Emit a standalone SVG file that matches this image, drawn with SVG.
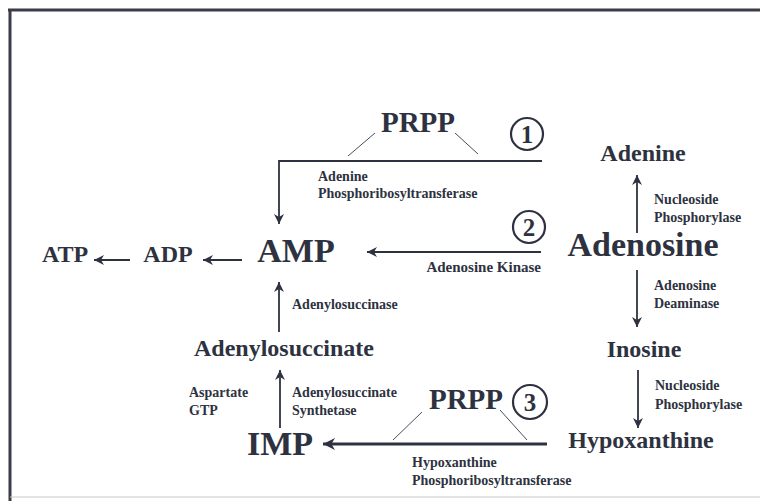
<svg xmlns="http://www.w3.org/2000/svg" width="760" height="501" viewBox="0 0 760 501">
<defs>
<marker id="ah" viewBox="0 0 10 10" refX="10" refY="5" markerWidth="10" markerHeight="10" markerUnits="userSpaceOnUse" orient="auto"><path d="M0,0 L10,5 L0,10 L3,5 z" fill="#2e3240"/></marker>
<marker id="ahb" viewBox="0 0 10 10" refX="10" refY="5" markerWidth="15" markerHeight="12" markerUnits="userSpaceOnUse" orient="auto"><path d="M0,0 L10,5 L0,10 L3,5 z" fill="#2e3240"/></marker>
</defs>
<style>
text{font-family:"Liberation Serif","Times New Roman",serif;font-weight:bold;fill:#2e3240}
.big{font-size:34px;text-anchor:middle}
.mid{font-size:24px;text-anchor:middle}
.prpp{font-size:29px;text-anchor:middle}
.lab{font-size:14px}
.ln{stroke:#2e3240;stroke-width:1.8;fill:none}
.thin{stroke:#4a4e5a;stroke-width:1;fill:none}
.circ{fill:none;stroke:#2e3240;stroke-width:2.2}
.num{font-size:25px;text-anchor:middle}
</style>
<rect width="760" height="501" fill="#fff"/>
<g id="frame">
<path d="M8,10 H760 M10,10 V501" stroke="#3a3d48" stroke-width="3" fill="none"/>
<path d="M10,497 H760" stroke="#c8c8cc" stroke-width="1" fill="none"/>
</g>
<g id="connectors">
<path class="ln" d="M542,161 H279 V224" marker-end="url(#ah)"/>
<path class="thin" d="M375,133 L348,156 M455,133 L478,154"/>
<path class="ln" d="M541,252 H367" marker-end="url(#ah)"/>
<path class="ln" d="M242,260 H203" marker-end="url(#ah)"/>
<path class="ln" d="M130,260 H94" marker-end="url(#ah)"/>
<path class="ln" d="M637,233 V175" marker-end="url(#ah)"/>
<path class="ln" d="M637,270 V327" marker-end="url(#ah)"/>
<path class="ln" d="M638,370 V428" marker-end="url(#ah)"/>
<path class="ln" d="M279,332 V282" marker-end="url(#ah)"/>
<path class="ln" d="M280,428 V370" marker-end="url(#ah)"/>
<path class="ln" style="stroke-width:3.2" d="M547,444 H323" marker-end="url(#ahb)"/>
<path class="thin" d="M422,412 L393,440 M500,410 L527,440"/>
</g>
<g id="prpp1"><text class="prpp" x="418" y="132">PRPP</text></g>
<g id="num1"><circle class="circ" cx="527" cy="134" r="16"/><text class="num" x="527" y="143">1</text></g>
<g id="enz1"><text class="lab" x="318" y="181">Adenine</text><text class="lab" x="318" y="198">Phosphoribosyltransferase</text></g>
<g id="adenine"><text class="mid" x="643" y="161">Adenine</text></g>
<g id="enz-np1"><text class="lab" x="654" y="204">Nucleoside</text><text class="lab" x="654" y="222">Phosphorylase</text></g>
<g id="num2"><circle class="circ" cx="529" cy="227" r="16"/><text class="num" x="529" y="236">2</text></g>
<g id="adenosine"><text class="big" x="643" y="256">Adenosine</text></g>
<g id="enz-ak"><text class="lab" x="541" y="272" text-anchor="end" style="font-size:15px">Adenosine Kinase</text></g>
<g id="amp"><text class="big" x="296" y="262">AMP</text></g>
<g id="adp"><text class="mid" x="168" y="262">ADP</text></g>
<g id="atp"><text class="mid" x="65" y="262">ATP</text></g>
<g id="enz-ad"><text class="lab" x="654" y="290">Adenosine</text><text class="lab" x="654" y="308">Deaminase</text></g>
<g id="enz-as"><text class="lab" x="292" y="309">Adenylosuccinase</text></g>
<g id="adenylosuccinate"><text class="mid" x="284" y="356">Adenylosuccinate</text></g>
<g id="inosine"><text class="mid" x="644" y="357">Inosine</text></g>
<g id="enz-np2"><text class="lab" x="655" y="390">Nucleoside</text><text class="lab" x="655" y="409">Phosphorylase</text></g>
<g id="cofactors"><text class="lab" x="189" y="397">Aspartate</text><text class="lab" x="189" y="415">GTP</text></g>
<g id="enz-ass"><text class="lab" x="292" y="397">Adenylosuccinate</text><text class="lab" x="292" y="415">Synthetase</text></g>
<g id="prpp3"><text class="prpp" x="466" y="409">PRPP</text></g>
<g id="num3"><circle class="circ" cx="530" cy="402" r="17"/><text class="num" x="530" y="411">3</text></g>
<g id="imp"><text class="big" x="280" y="455">IMP</text></g>
<g id="hypoxanthine"><text class="mid" x="641" y="448">Hypoxanthine</text></g>
<g id="enz-hprt"><text class="lab" x="412" y="467">Hypoxanthine</text><text class="lab" x="412" y="485">Phosphoribosyltransferase</text></g>
</svg>
